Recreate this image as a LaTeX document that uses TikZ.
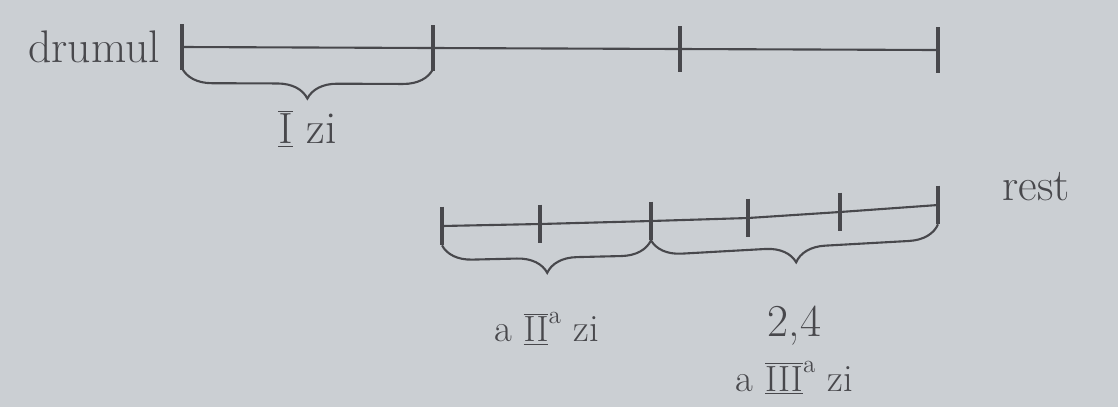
\documentclass[tikz,border=0pt]{standalone}
\usetikzlibrary{positioning,decorations.pathreplacing}
\definecolor{paper}{RGB}{203,207,211}
\definecolor{pencil}{RGB}{72,72,76}

\begin{document}
\begin{tikzpicture}[x=0.02cm, y=-0.02cm, line width=1.2pt, draw=pencil,
    every node/.style={text=pencil, font=\fontsize{26}{30}\selectfont},
    smalltext/.style={font=\fontsize{22}{26}\selectfont},
    tick/.style={line width=1.8pt},
    acolada/.style={decorate, decoration={brace, mirror, amplitude=0.6cm}}]

    \fill[paper] (0,0) rectangle (1118,407);
    \useasboundingbox (0,0) rectangle (1118,407);

    % drumul intreg
    \coordinate (d0) at (182,47);
    \coordinate (d1) at (433,48);
    \coordinate (d2) at (680,49);
    \coordinate (d3) at (938,50);
    \node (drumul) [left=0.3cm of d0] {drumul};

    \draw (d0) -- (d1) -- (d2) -- (d3);
    \foreach \p in {d0,d1,d2,d3}
        \draw[tick] ([yshift=13pt]\p) -- ([yshift=-13pt]\p);

    \draw[acolada] ([yshift=-12pt]d0) -- ([yshift=-12pt]d1)
        coordinate[midway, yshift=-0.45cm] (z1);
    \node (zi1) [below=0.25cm of z1] {$\underline{\overline{\mathrm{I}}}$ zi};

    % restul drumului
    \coordinate (r0) at (442,226);
    \coordinate (r1) at (540,224);
    \coordinate (r2) at (651,221);
    \coordinate (r3) at (748,218);
    \coordinate (r4) at (840,212);
    \coordinate (r5) at (938,205);
    \node (rest) [above right=-0.05cm and 1.15cm of r5] {rest};

    \draw (r0) -- (r1) -- (r2) -- (r3) -- (r4) -- (r5);
    \foreach \p in {r0,r1,r2,r3,r4,r5}
        \draw[tick] ([yshift=11pt]\p) -- ([yshift=-11pt]\p);

    \draw[acolada] ([yshift=-11pt]r0) -- ([yshift=-11pt]r2)
        coordinate[midway, yshift=-0.95cm] (z2);
    \draw[acolada] ([yshift=-11pt]r2) -- ([yshift=-11pt]r5)
        coordinate[midway, yshift=-0.95cm] (z3);

    \node (zi2) [smalltext, below=0.3cm of z2]
        {a $\underline{\overline{\mathrm{II}}}^{\mathrm{a}}$ zi};
    \node (frac) [below=0.38cm of z3] {2,4};
    \node (zi3) [smalltext, below=0.05cm of frac]
        {a $\underline{\overline{\mathrm{III}}}^{\mathrm{a}}$ zi};

\end{tikzpicture}
\end{document}
